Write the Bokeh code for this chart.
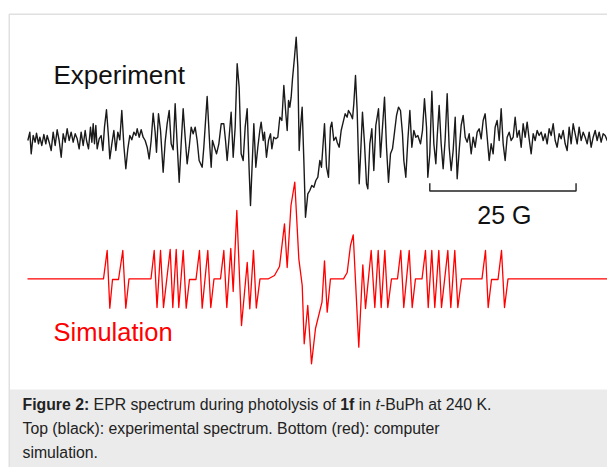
from bokeh.plotting import figure
from bokeh.models import Range1d, Label
from bokeh.embed import file_html
from bokeh.resources import INLINE

# ---------------- data (field in G, signal in arbitrary units) ----------------
exp_points = [
    (0.06, -3), (0.40, 5.3), (0.63, -16.3), (0.97, 2), (1.31, -4.7), (1.54, 4.3), (1.88, -6.3), (2.11, 0.3),
    (2.45, -8), (2.79, 3), (3.13, -6.3), (3.36, 2), (3.70, -4.7), (4.05, -13), (4.39, 5.3), (4.73, -8),
    (5.07, 7.7), (5.41, -3), (5.76, -19.7), (6.10, 3.7), (6.44, -4.7), (6.78, 8.7), (7.12, -3), (7.46, 5.3),
    (7.81, -4.7), (8.15, 3.7), (8.49, -1.3), (8.83, -11.3), (9.17, 5.3), (9.52, -8), (9.86, 7), (10.09, -3),
    (10.43, -11.3), (10.77, 10.3), (11.00, -4.7), (11.23, 13.7), (11.45, -6.3), (11.68, 12), (11.91, -11.3),
    (12.25, -1.3), (12.59, 2), (12.88, -13), (13.16, 10.3), (13.50, 27.7), (13.85, 0.3), (14.07, -21.3),
    (14.42, -6.3), (14.76, 7), (15.10, -13), (15.44, 5.3), (15.78, -2.3), (16.12, 27), (16.47, -8),
    (16.81, -31.3), (17.15, -11.3), (17.49, 2), (17.83, -2.3), (18.18, 5.3), (18.52, 2), (18.75, 8.7),
    (19.09, 0.3), (19.43, 7.7), (19.77, 0.3), (20.11, -3), (20.46, -9.7), (20.80, -21.3), (21.14, -3),
    (21.48, 24.3), (21.82, 5.3), (22.05, -14.7), (22.39, 23.7), (22.74, 7), (23.19, -34.7), (23.53, -4.7),
    (23.87, 13.7), (24.22, 27), (24.56, -6.3), (24.90, -12.3), (25.24, 33.7), (25.58, -6.3), (25.93, -44.7),
    (26.27, -6.3), (26.61, 28.7), (26.95, 0.3), (27.29, -26.3), (27.64, -9.7), (27.98, 10.3), (28.32, 3.7),
    (28.66, 10.3), (29.00, -3), (29.34, -23),
    (29.86, -29.7), (30.14, -9.7), (30.71, 41), (31.17, -9.7), (31.40, -29.7), (31.62, -3), (31.97, -9.7),
    (32.31, -16.3), (32.71, -6.3), (33.11, 13.7), (33.56, 13.7), (33.85, -3), (34.13, -23), (34.42, -3),
    (34.81, 25.3), (35.16, -19.7), (35.50, 10.3), (35.84, 73.7), (36.18, 50.3), (36.52, -16.3), (36.87, -23),
    (37.21, 10.3), (37.55, 28.7), (37.89, -33), (38.12, -68), (38.41, -26.3), (38.69, 13.7), (39.03, -29.7),
    (39.37, -9.7), (39.71, 7), (39.94, 15.3), (40.29, -3), (40.51, 5.3), (40.85, -19.7), (41.20, -3),
    (41.54, 3.7), (41.77, -11.3), (42.11, 0.3), (42.45, -1.3), (42.79, 0.3), (43.13, 20.3), (43.48, 17),
    (43.82, 52), (44.16, 23.7), (44.39, 7), (44.62, 37), (44.84, 30.3), (45.07, 40.3), (45.30, 58.7),
    (45.64, 80.3), (45.93, 100.3), (46.21, 70.3), (46.44, -13), (46.67, 10.3), (46.95, 30.3), (47.24, -23),
    (47.52, -79.7), (47.92, -56.3), (48.26, -53), (48.60, -48), (48.95, -49.7), (49.29, -43), (49.63, -39.7),
    (49.97, -23), (50.25, -29.7),
    (50.77, 13.7), (51.11, -29.7), (51.45, -39.7), (51.79, 10.3), (52.02, 15.3), (52.36, -3), (52.71, 0.3),
    (52.93, -4.7), (53.28, -9.7), (53.62, 7), (53.96, 15.3), (54.30, 23.7), (54.64, 20.3), (54.87, 27),
    (55.21, 23.7), (55.56, 18.7), (55.78, 33.7), (56.07, 62), (56.35, 27), (56.70, -46.3), (56.92, -19.7),
    (57.26, 25.3), (57.61, -6.3), (57.95, -46.3), (58.18, -51.3), (58.52, -6.3), (58.86, 8.7), (59.20, -33),
    (59.54, 12), (60.00, 28.7), (60.34, -19.7), (60.68, 10.3), (61.03, 40.3), (61.37, -9.7), (61.71, -44.7),
    (62.05, -16.3), (62.39, -11.3), (62.74, 5.3), (63.08, 22), (63.42, 30.3), (63.76, 27), (64.10, 3.7),
    (64.33, -23), (64.67, -39.7), (65.01, -3), (65.36, 27), (65.70, -9.7), (66.04, 7), (66.38, 0.3),
    (66.72, 2), (67.18, -6.3), (67.52, 7), (67.86, 38.7), (68.21, 10.3), (68.43, -39.7), (68.77, -16.3),
    (69.12, 46.3), (69.46, -6.3), (69.80, -26.3), (70.03, 0.3), (70.37, 32), (70.71, -6.3), (71.05, -31.3),
    (71.40, -1.3), (71.74, 43.7), (72.08, -9.7), (72.42, -33), (72.76, -13), (73.11, 20.3), (73.45, -41.3),
    (73.79, -13), (74.13, 12), (74.47, 22), (74.82, 0.3), (75.16, -4.7), (75.50, 3.7), (75.84, -16.3),
    (76.18, 0.3), (76.52, -9.7), (76.87, 5.3), (77.21, 8.7), (77.55, -1.3), (77.89, 17), (78.23, 23.7),
    (78.58, 0.3), (78.92, -23), (79.26, -6.3), (79.60, -16.3), (79.94, 10.3), (80.28, 17), (80.63, -3),
    (80.97, 28.7), (81.31, -6.3), (81.65, -23), (81.99, 0.3), (82.34, 5.3), (82.68, -3), (83.02, 0.3),
    (83.36, 20.3), (83.70, 0.3), (84.05, 7), (84.39, -9.7), (84.73, 13.7), (85.07, 0.3), (85.41, 15.3),
    (85.75, -1.3), (86.10, -16.3), (86.44, 3.7), (86.78, -3), (87.12, 7), (87.46, 2), (87.81, 5.3),
    (88.15, -3), (88.49, 3.7), (88.83, -6.3), (89.17, 8.7), (89.52, 2), (89.86, 13.7), (90.20, -3),
    (90.54, -9.7), (90.88, 3.7), (91.22, -1.3), (91.57, 7), (91.91, -6.3), (92.25, -13), (92.59, 10.3),
    (92.93, -6.3), (93.28, 13.7), (93.62, 3.7), (93.96, -6.3), (94.30, 10.3), (94.64, -3), (94.99, 5.3),
    (95.33, 0.3), (95.67, -6.3), (96.01, 5.3), (96.35, -9.7), (96.70, 0.3), (97.04, 7), (97.38, -3),
    (97.72, 5.3), (98.06, -4.7), (98.40, 3.7), (98.75, 2), (99.09, -3), (99.43, 10.3), (99.66, 15.3),
]

sim_points = [
    (0.00, 0), (12.99, 0), (13.62, 28.3), (14.07, -29.4), (14.53, -0.7), (15.56, -0.7), (16.29, 28.3),
    (16.80, -29.4), (17.35, 0), (21.11, 0), (21.66, 28.3), (22.14, -28.7), (22.74, 28.3), (23.25, -28.7),
    (24.39, 29.3), (24.84, -28.7), (25.42, 29.3), (25.86, -28.7), (26.62, 28.3), (27.13, -29.4),
    (27.69, -0.7), (28.80, -0.7), (29.40, 28.3), (29.86, -29.4), (30.82, 28.3), (31.33, -28.7), (31.88, 0),
    (32.99, 0), (33.56, 28.3), (34.07, -28.7), (34.75, 30.3), (35.16, -12.7), (35.78, 68.3), (36.58, -46.7),
    (37.56, 16.3), (38.00, -30.0), (38.63, 28.3), (39.11, -29.2), (39.74, 0), (41.20, 0), (42.22, 3.3),
    (43.08, 12.3), (43.93, 55.0), (44.39, 11.3), (45.04, 73.3), (45.69, 96.6), (46.38, 20.0), (46.96, -6.7),
    (47.30, -65.0), (47.91, -26.7), (48.55, -85.0), (49.23, -49.7), (50.34, -23.4), (50.77, 18.0),
    (51.23, -33.4), (51.79, 0), (54.02, 0), (54.65, 6.3), (55.21, 33.3), (55.68, 44.0), (56.63, -68.4),
    (57.32, 14.0), (57.78, -29.7), (58.75, 28.3), (59.37, -28.7), (59.95, 28.3), (60.46, -28.7),
    (61.08, 28.3), (61.59, -28.7), (62.22, 0), (63.25, 0), (63.81, 28.3), (64.32, -28.7), (65.25, 28.3),
    (65.76, -28.7), (66.32, 0), (67.44, 0), (68.03, 28.3), (68.50, -28.7), (69.11, 28.3), (69.62, -28.7),
    (70.31, 28.3), (70.77, -28.7), (71.85, 28.3), (72.36, -28.7), (73.04, 28.3), (73.56, -28.7),
    (74.19, 0), (77.69, 0), (78.29, 28.3), (78.75, -28.7), (79.32, -0.7), (80.43, -0.7), (81.03, 28.3),
    (81.54, -28.7), (82.14, 0), (99.74, 0),
]

exp_field = [f for f, s in exp_points]
exp_signal = [s for f, s in exp_points]
sim_field = [f for f, s in sim_points]
sim_signal = [s for f, s in sim_points]

scale_bar_gauss = 25
label_exp = "Experiment"
label_sim = "Simulation"
label_scale = "25 G"

# ---------------- layout helpers (picture pixel -> data) ----------------
W, H = 607, 467
PX_PER_G = 5.85
X0_PX = 27.0      # picture x of field 0
Y0_PX = 278.3     # picture y of simulation baseline
EXP_OFFSET = Y0_PX - 137.0


def gx(px):
    return (px - X0_PX) / PX_PER_G


def gy(py):
    return Y0_PX - py


def ty(py_baseline, fs):
    # Bokeh places the label roughly 0.35 em below the requested baseline
    return gy(py_baseline - 0.35 * fs)


p = figure(width=W, height=H, output_backend="svg", toolbar_location=None,
           x_range=Range1d(gx(0), gx(W)), y_range=Range1d(gy(H), gy(0)),
           x_axis_type=None, y_axis_type=None, min_border=0)
p.outline_line_color = None
p.background_fill_color = "white"
p.border_fill_color = "white"
p.grid.grid_line_color = None

# caption panel and frame border
p.quad(left=gx(9.5), right=gx(800), top=gy(389), bottom=gy(700),
       fill_color="#ebebeb", line_color=None)
p.quad(left=gx(8.75), right=gx(800), top=gy(13.75), bottom=gy(700),
       fill_color=None, line_color="#e0e0e0", line_width=1.5)

# spectra
p.line(exp_field, [s + EXP_OFFSET for s in exp_signal], line_color="#1a1a1a",
       line_width=1.4, line_join="round")
p.line(sim_field, sim_signal, line_color="#ff0000", line_width=1.3, line_join="round")

# scale bar
sb0 = gx(429.3)
bar_y = gy(190.5)
tick_y = gy(182.7)
p.line([sb0, sb0, sb0 + scale_bar_gauss, sb0 + scale_bar_gauss],
       [tick_y, bar_y, bar_y, tick_y], line_color="#222222", line_width=1.4)

FONT = "Liberation Sans"
p.add_layout(Label(x=gx(53), y=ty(84, 26), text=label_exp, text_font=FONT,
                   text_font_size="26px", text_color="#111111",
                   text_align="left", text_baseline="alphabetic"))
p.add_layout(Label(x=gx(53), y=ty(340, 25.5), text=label_sim, text_font=FONT,
                   text_font_size="25.5px", text_color="#ff0000",
                   text_align="left", text_baseline="alphabetic"))
p.add_layout(Label(x=sb0 + scale_bar_gauss / 2 + gx(504) - gx(502.5), y=ty(223, 25),
                   text=label_scale, text_font=FONT, text_font_size="25px",
                   text_color="#111111", text_align="center",
                   text_baseline="alphabetic"))

# caption (mixed styles)
CFS = 15.8
caption_segments = [
    # (picture x, picture baseline y, text, style)
    (22.0, 409.3, "Figure 2:", "bold"),
    (93.1, 409.3, "EPR spectrum during photolysis of", "normal"),
    (339.8, 409.3, "1f", "bold"),
    (358.3, 409.3, "in", "normal"),
    (375.0, 409.3, "t", "italic"),
    (379.4, 409.3, "-BuPh at 240 K.", "normal"),
    (22.0, 433.6, "Top (black): experimental spectrum. Bottom (red): computer", "normal"),
    (22.0, 458.0, "simulation.", "normal"),
]
for px, py, txt, style in caption_segments:
    p.add_layout(Label(x=gx(px), y=ty(py, CFS), text=txt, text_font=FONT,
                       text_font_size=f"{CFS}px", text_font_style=style,
                       text_color="#222222", text_align="left",
                       text_baseline="alphabetic"))

open("out.html", "w").write(file_html(p, INLINE))
